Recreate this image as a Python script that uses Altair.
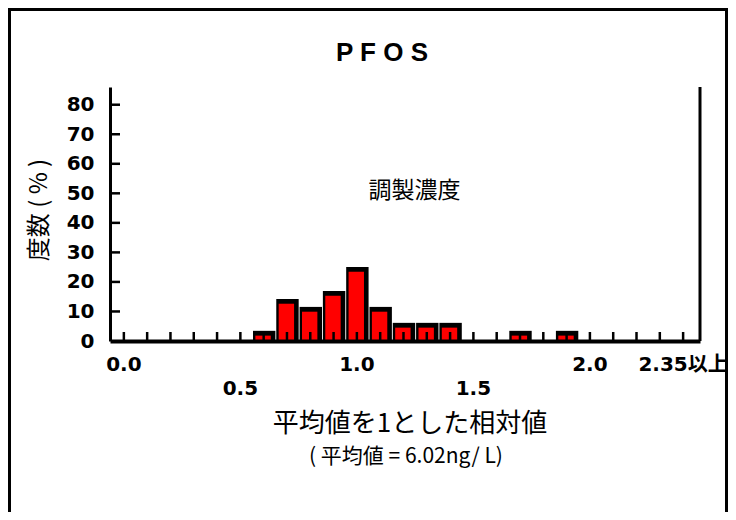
import altair as alt
import pandas as pd

# ---- data ----
bin_centers = [0.6, 0.7, 0.8, 0.9, 1.0, 1.1, 1.2, 1.3, 1.4, 1.7, 1.9]
percent = [2.7, 13.5, 10.8, 16.2, 24.3, 10.8, 5.4, 5.4, 5.4, 2.7, 2.7]

tick_positions = [round(i * 0.1, 1) for i in range(25)]
xlabel_vals = [0.0, 0.5, 1.0, 1.5, 2.0, 2.4]
xlabel_text = ["0.0", "0.5", "1.0", "1.5", "2.0", "2.35以上"]
xlabel_row = [0, 1, 0, 1, 0, 0]
y_label_vals = [0, 10, 20, 30, 40, 50, 60, 70, 80]
y_tick_vals = [10, 20, 30, 40, 50, 60, 70, 80]

W, H = 590, 254
PAD_L, PAD_T = 102, 79
TOTAL_W, TOTAL_H = 720, 504
LATIN = "'DejaVu Sans', 'Noto Sans CJK JP', sans-serif"
CJK = "'Noto Sans CJK JP', sans-serif"

xs = alt.Scale(domain=[-0.038, 2.451], nice=False, zero=False)
ys = alt.Scale(domain=[0, 86], nice=False)

bars_df = pd.DataFrame({"x": bin_centers, "pct": percent})

x_axis = alt.Axis(labels=False, ticks=False, grid=False, title=None,
                  domainWidth=4, domainColor="black", zindex=1)
y_axis = alt.Axis(values=y_label_vals, ticks=False, grid=False, title=None,
                  labelFont=LATIN, labelFontWeight="bold", labelFontSize=20,
                  labelColor="black", labelPadding=16, labelOverlap=False,
                  labelFlush=False, domainWidth=3, domainColor="black", zindex=1)

shadow = alt.Chart(bars_df).mark_bar(
    color="black", width=22.4, xOffset=0.5, yOffset=-2.2, orient="vertical"
).encode(
    x=alt.X("x:Q", scale=xs, axis=x_axis),
    y=alt.Y("pct:Q", scale=ys, axis=y_axis, stack=None),
)

red = alt.Chart(bars_df).mark_bar(
    color="#FF0000", width=15.4, xOffset=-0.6, yOffset=2.6, orient="vertical"
).encode(
    x=alt.X("x:Q", scale=xs, axis=x_axis),
    y=alt.Y("pct:Q", scale=ys, axis=y_axis, stack=None),
)

xticks = alt.Chart(pd.DataFrame({"x": tick_positions})).mark_rule(
    color="black", strokeWidth=2.5
).encode(
    x=alt.X("x:Q", scale=xs, axis=x_axis),
    y=alt.value(H),
    y2=alt.value(H - 9),
)

yticks = alt.Chart(pd.DataFrame({"pct": y_tick_vals})).mark_rule(
    color="black", strokeWidth=2.5
).encode(
    y=alt.Y("pct:Q", scale=ys, axis=y_axis),
    x=alt.value(0),
    x2=alt.value(10),
)

right_line = alt.Chart(pd.DataFrame({"a": [0]})).mark_rule(
    color="black", strokeWidth=3
).encode(x=alt.value(W), y=alt.value(0), y2=alt.value(H))

xl_df = pd.DataFrame({"x": xlabel_vals, "label": xlabel_text, "row": xlabel_row})


def xlabels(row, ypix):
    return alt.Chart(xl_df).transform_filter(f"datum.row == {row}").mark_text(
        font=LATIN, fontSize=20, fontWeight="bold", color="black",
        align="center", baseline="middle"
    ).encode(
        x=alt.X("x:Q", scale=xs, axis=x_axis),
        y=alt.value(ypix),
        text="label:N",
    )


def note(txt, x, y, size, weight="normal", angle=0, font=CJK):
    return alt.Chart(pd.DataFrame({"t": [txt]})).mark_text(
        font=font, fontSize=size, fontWeight=weight, angle=angle,
        color="black", align="center", baseline="middle"
    ).encode(x=alt.value(x), y=alt.value(y), text="t:N")


frame = alt.Chart(pd.DataFrame({"a": [0]})).mark_rect(
    fillOpacity=0, stroke="black", strokeWidth=3
).encode(x=alt.value(-PAD_L + 1.5), x2=alt.value(TOTAL_W - PAD_L - 1.5),
         y=alt.value(-PAD_T + 1.5), y2=alt.value(TOTAL_H))

chart = alt.layer(
    frame,
    shadow,
    red,
    xticks,
    yticks,
    right_line,
    xlabels(0, 278),
    xlabels(1, 302),
    note("P F O S", 272, -34, 26, "bold",
         font="'Liberation Sans', 'Arial', sans-serif"),
    note("調製濃度", 304.5, 104, 23),
    note("度数 ( % )", -70, 123, 24, angle=270),
    note("平均値を1とした相対値", 300, 337, 26),
    note("( 平均値 = 6.02ng/ L)", 296, 370, 21),
).properties(
    width=W,
    height=H,
    padding={"left": PAD_L, "top": PAD_T,
             "right": TOTAL_W - PAD_L - W, "bottom": TOTAL_H - PAD_T - H},
    autosize=alt.AutoSizeParams(type="none"),
    background="white",
).configure_view(stroke=None)

chart.save("out.html", embed_options={"renderer": "svg", "actions": False})
